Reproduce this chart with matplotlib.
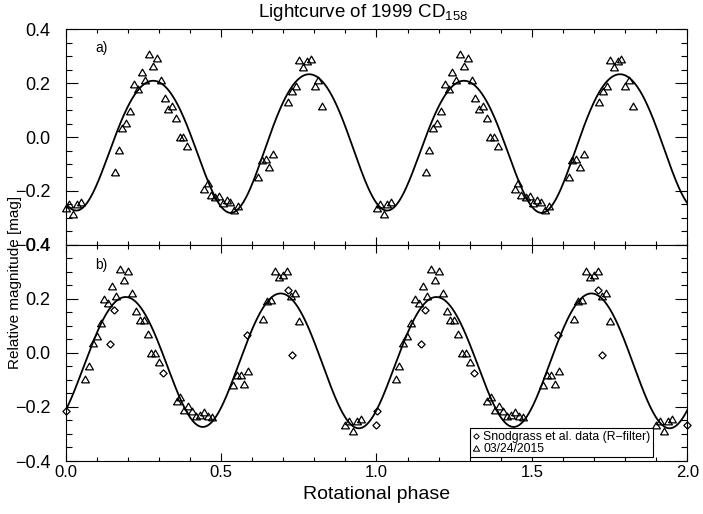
import numpy as np
import matplotlib
matplotlib.use("Agg")
import matplotlib.pyplot as plt
from matplotlib.lines import Line2D

plt.rcParams['font.family'] = ['Liberation Sans', 'DejaVu Sans']
plt.rcParams['mathtext.fontset'] = 'custom'
plt.rcParams['mathtext.rm'] = 'Liberation Sans'

# ---------------- data ----------------
# panel a) 03/24/2015 triangles (rotational phase in [0,1), relative mag)
phase_a = [0.002, 0.0106, 0.0246, 0.0353, 0.0482, 0.1586, 0.1704, 0.1822, 0.1951, 0.2069,
           0.2198, 0.2326, 0.2444, 0.2562, 0.2680, 0.2809, 0.2938, 0.3066, 0.3184, 0.3302,
           0.3431, 0.3549, 0.3667, 0.3785, 0.3913, 0.4450, 0.4568, 0.4664, 0.4804, 0.4932,
           0.5050, 0.5179, 0.5297, 0.5415, 0.5554, 0.6198, 0.6305, 0.6434, 0.6552, 0.6680,
           0.7153, 0.7281, 0.7410, 0.7506, 0.7646, 0.7764, 0.7882, 0.8010, 0.8128, 0.8257]
mag_a = [-0.262, -0.250, -0.284, -0.247, -0.241, -0.130, -0.049, 0.035, 0.052, 0.096,
         0.198, 0.179, 0.243, 0.210, 0.309, 0.262, 0.293, 0.210, 0.144, 0.105,
         0.116, 0.072, 0.000, 0.000, -0.033, -0.194, -0.170, -0.216, -0.222, -0.219,
         -0.244, -0.232, -0.241, -0.272, -0.257, -0.148, -0.084, -0.080, -0.111, -0.064,
         0.130, 0.170, 0.191, 0.287, 0.259, 0.284, 0.288, 0.188, 0.210, 0.115]

# panel b) 03/24/2015 triangles
phase_b = [0.0621, 0.0739, 0.0868, 0.0996, 0.1125, 0.1243, 0.1372, 0.1500, 0.1618, 0.1747,
           0.1876, 0.2004, 0.2133, 0.2262, 0.2380, 0.2509, 0.2637, 0.2755, 0.2884, 0.3013,
           0.3570, 0.3688, 0.3806, 0.3935, 0.4064, 0.4192, 0.4321, 0.4450, 0.4579, 0.4707,
           0.5372, 0.5501, 0.5630, 0.5747, 0.5876, 0.6359, 0.6487, 0.6616, 0.6734, 0.6863,
           0.6992, 0.7120, 0.7249, 0.7378, 0.7506, 0.8987, 0.9126, 0.9255, 0.9383, 0.9512]
mag_b = [-0.096, -0.050, 0.037, 0.061, 0.111, 0.201, 0.185, 0.247, 0.210, 0.309,
         0.269, 0.302, 0.220, 0.154, 0.123, 0.123, 0.071, 0.000, 0.000, -0.032,
         -0.179, -0.163, -0.213, -0.198, -0.216, -0.232, -0.229, -0.220, -0.235, -0.237,
         -0.120, -0.080, -0.080, -0.114, -0.066, 0.127, 0.191, 0.195, 0.302, 0.280,
         0.290, 0.302, 0.210, 0.222, 0.117, -0.268, -0.253, -0.290, -0.253, -0.243]

# panel b) Snodgrass et al. data (R-filter) diamonds
phase_s = [0.0005, 0.1425, 0.1554, 0.3141, 0.5844, 0.7142, 0.7270, 0.9980]
mag_s = [-0.216, 0.034, 0.160, -0.074, 0.065, 0.231, -0.009, -0.268]

# Fourier fit coefficients: c0, then (cos, sin) pairs for harmonics k = 1, 2, 4 of phase
fit_a = [-0.0125, 0.0066, -0.0110, -0.2286, -0.0989, -0.0106, -0.0113]
fit_b = [-0.0234, -0.0047, -0.0053, -0.1829, 0.1630, -0.0009, 0.0080]
harmonics = [1, 2, 4]

ytick_vals = [-0.4, -0.2, 0.0, 0.2, 0.4]
ytick_labels = ['\u22120.4', '\u22120.2', '0.0', '0.2', '0.4']
xtick_vals = [0.0, 0.5, 1.0, 1.5, 2.0]
xtick_labels = ['0.0', '0.5', '1.0', '1.5', '2.0']

title_text = 'Lightcurve of 1999 CD$_{\\mathregular{158}}$'
xlabel_text = 'Rotational phase'
ylabel_text = 'Relative magnitude [mag]'
legend_labels = ['Snodgrass et al. data (R\u2212filter)', '03/24/2015']

# ---------------- figure ----------------
fig = plt.figure(figsize=(7.03, 5.14), dpi=100)
ax1 = fig.add_axes([0.09346, 0.5237, 0.8842, 0.4193])
ax2 = fig.add_axes([0.09346, 0.1031, 0.8842, 0.4206])

tri = [(-0.5, -0.433), (0.5, -0.433), (0.0, 0.433), (-0.5, -0.433)]
dia = [(0, -1), (1, 0), (0, 1), (-1, 0), (0, -1)]

xx = np.linspace(0, 2, 1001)

def fourier(c, x):
    y = np.full_like(x, c[0])
    for i, k in enumerate(harmonics):
        y = y + c[1 + 2 * i] * np.cos(2 * np.pi * k * x) + c[2 + 2 * i] * np.sin(2 * np.pi * k * x)
    return y

def style(ax):
    ax.set_xlim(0, 2)
    ax.set_ylim(-0.4, 0.4)
    ax.set_xticks(xtick_vals)
    ax.set_xticks(np.arange(0, 2.001, 0.1), minor=True)
    ax.set_yticks(ytick_vals)
    ax.set_yticklabels(ytick_labels)
    ax.set_yticks(np.arange(-0.4, 0.401, 0.05), minor=True)
    ax.tick_params(which='both', direction='in', top=True, right=True, width=0.8)
    ax.tick_params(axis='x', which='major', length=5.8, labelsize=12, pad=3)
    ax.tick_params(axis='x', which='minor', length=2.9)
    ax.tick_params(axis='y', which='major', length=8.6, labelsize=13, pad=11)
    ax.tick_params(axis='y', which='minor', length=4.3)
    for s in ax.spines.values():
        s.set_linewidth(0.8)

# panel a
pa = np.array(phase_a)
ax1.plot(np.concatenate([pa, pa + 1]), mag_a * 2, linestyle='none', marker=tri,
         ms=5.6, mfc='none', mec='black', mew=0.9, clip_on=False)
ax1.plot(xx, fourier(fit_a, xx), color='black', lw=1.3)
style(ax1)
ax1.set_xticklabels([])
ax1.text(0.047, 0.913, 'a)', transform=ax1.transAxes, fontsize=10, va='center', ha='left')

# panel b
pb = np.array(phase_b)
ps = np.array(phase_s)
ax2.plot(np.concatenate([ps, ps + 1]), mag_s * 2, linestyle='none', marker=dia,
         ms=5.2, mfc='none', mec='black', mew=0.9, clip_on=False)
ax2.plot(np.concatenate([pb, pb + 1]), mag_b * 2, linestyle='none', marker=tri,
         ms=5.6, mfc='none', mec='black', mew=0.9, clip_on=False)
ax2.plot(xx, fourier(fit_b, xx), color='black', lw=1.3)
style(ax2)
ax2.set_xticklabels(xtick_labels)
ax2.text(0.047, 0.905, 'b)', transform=ax2.transAxes, fontsize=10, va='center', ha='left')

handles = [Line2D([], [], linestyle='none', marker=dia, ms=4.0, mfc='none', mec='black', mew=0.7),
           Line2D([], [], linestyle='none', marker=tri, ms=4.5, mfc='none', mec='black', mew=0.7)]
leg = ax2.legend(handles, legend_labels, loc='lower left', bbox_to_anchor=(0.650, 0.017),
                 borderaxespad=0, fontsize=8.8, frameon=True, fancybox=False,
                 handlelength=0.6, handletextpad=0.3, borderpad=0.2, labelspacing=0.0,
                 edgecolor='black', framealpha=1)
leg.get_frame().set_linewidth(0.8)

fig.text(0.517, 0.967, title_text, ha='center', va='baseline', fontsize=13.5)
fig.text(0.535, 0.03, xlabel_text, ha='center', va='baseline', fontsize=14)
fig.text(0.022, 0.450, ylabel_text, ha='center', va='center', rotation=90, fontsize=11)

fig.savefig('out.png', dpi=100)
